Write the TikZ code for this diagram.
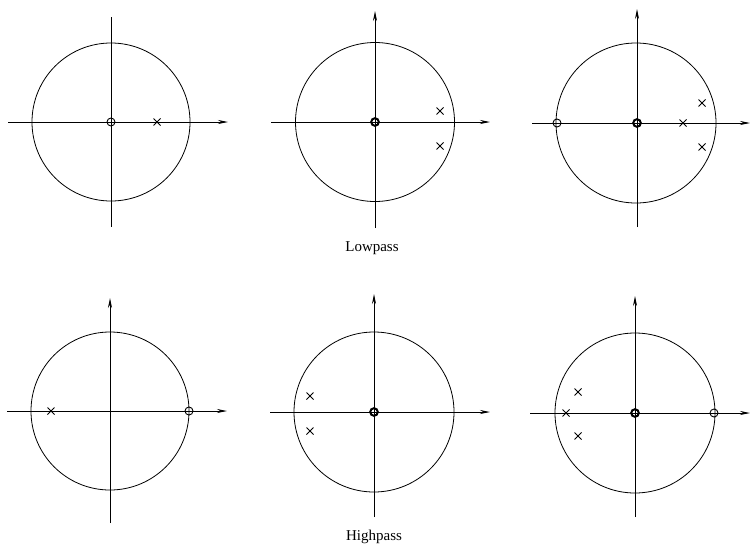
\documentclass[tikz,border=0pt]{standalone}
\usepackage{fontspec}
\setmainfont{Liberation Serif}
\usetikzlibrary{arrows.meta}
\begin{document}
\begin{tikzpicture}[x=1pt,y=-1pt,
  axisline/.style={line width=0.9pt},
  arr/.style={axisline,-{Stealth[length=10pt,width=4pt]}},
  unitc/.style={line width=0.8pt},
  pole/.pic={\draw[line width=0.8pt] (-3.5pt,-3.5pt)--(3.5pt,3.5pt) (-3.5pt,3.5pt)--(3.5pt,-3.5pt);},
  zero/.pic={\draw[line width=0.9pt] (0,0) circle (4pt);},
  dzero/.pic={\draw[line width=2pt] (0,0) circle (3.8pt);},
  lbl/.style={font=\fontsize{15}{18}\selectfont, inner sep=0pt}]
\useasboundingbox[fill=white] (0,0) rectangle (751,546);

% ---------- Lowpass row ----------
% diagram 1
\draw[unitc] (111,122) circle (79pt);
\draw[arr] (8,122) -- (228,122);
\draw[axisline] (111,17) -- (111,227);
\pic at (111,122) {zero};
\pic at (157,122) {pole};

% diagram 2
\draw[unitc] (375,122) circle (79.5pt);
\draw[arr] (271,122) -- (490,122);
\draw[arr] (375,228) -- (375,11);
\pic at (375,122) {dzero};
\pic at (440,111) {pole};
\pic at (440,146) {pole};

% diagram 3
\draw[unitc] (636,123) circle (80pt);
\draw[arr] (532,123) -- (750,123);
\draw[arr] (637,227) -- (637,9);
\pic at (557,123) {zero};
\pic at (637,123) {dzero};
\pic at (683,123) {pole};
\pic at (702,103) {pole};
\pic at (702,147) {pole};

\node[lbl] (low) at (372,248) {Lowpass};

% ---------- Highpass row ----------
% diagram 4
\draw[unitc] (110,411) circle (79pt);
\draw[arr] (7,411) -- (227,411);
\draw[arr] (110,523) -- (110,298);
\pic at (51,411) {pole};
\pic at (189,411) {zero};

% diagram 5
\draw[unitc] (374,412) circle (80pt);
\draw[arr] (270,412) -- (490,412);
\draw[arr] (374,517) -- (374,294);
\pic at (374,412) {dzero};
\pic at (310,396) {pole};
\pic at (310,431) {pole};

% diagram 6
\draw[unitc] (635,413) circle (80pt);
\draw[arr] (530,413) -- (750,413);
\draw[arr] (635,517) -- (635,296);
\pic at (635,413) {dzero};
\pic at (714,413) {zero};
\pic at (566,413) {pole};
\pic at (578,392) {pole};
\pic at (578,436) {pole};

\node[lbl] (high) at (374,537) {Highpass};
\end{tikzpicture}
\end{document}
